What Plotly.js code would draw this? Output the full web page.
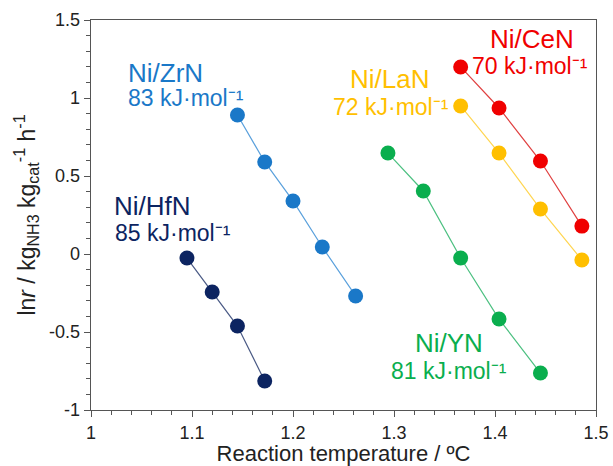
<!DOCTYPE html>
<html><head><meta charset="utf-8">
<script src="https://cdn.plot.ly/plotly-3.0.1.min.js"></script>
<style>html,body{margin:0;padding:0;background:#fff}#c{width:613px;height:466px}</style>
</head><body><div id="c"></div>
<script>
const hfnX = [1.095, 1.120, 1.145, 1.172];
const hfnY = [-0.026, -0.244, -0.462, -0.814];
const zrnX = [1.145, 1.172, 1.200, 1.229, 1.262];
const zrnY = [0.891, 0.590, 0.340, 0.045, -0.269];
const ynX = [1.294, 1.329, 1.366, 1.404, 1.445];
const ynY = [0.647, 0.404, -0.026, -0.417, -0.763];
const lanX = [1.366, 1.404, 1.445, 1.486];
const lanY = [0.949, 0.647, 0.288, -0.038];
const cenX = [1.366, 1.404, 1.445, 1.486];
const cenY = [1.199, 0.936, 0.596, 0.179];
const names = ["Ni/HfN", "Ni/ZrN", "Ni/YN", "Ni/LaN", "Ni/CeN"];
const energies = ["85 kJ·mol⁻¹", "83 kJ·mol⁻¹", "81 kJ·mol⁻¹", "72 kJ·mol⁻¹", "70 kJ·mol⁻¹"];
const xTickVals = [1, 1.1, 1.2, 1.3, 1.4, 1.5];
const xTickText = ["1", "1.1", "1.2", "1.3", "1.4", "1.5"];
const yTickVals = [-1, -0.5, 0, 0.5, 1, 1.5];
const yTickText = ["-1", "-0.5", "0", "0.5", "1", "1.5"];
const colors = ["#0c2461", "#1a78c8", "#0aae4e", "#ffbf00", "#f00000"];
const lineColors = ["#4a5a85", "#5aa0dc", "#4cc081", "#ffd550", "#e04040"];

const xs = [hfnX, zrnX, ynX, lanX, cenX];
const ys = [hfnY, zrnY, ynY, lanY, cenY];
const font = "Liberation Sans, Arial, sans-serif";

const traces = xs.map((x, i) => ({
  x: x, y: ys[i], type: "scatter", mode: "lines+markers", name: names[i],
  line: {color: lineColors[i], width: 1.2},
  marker: {color: colors[i], size: 15},
  showlegend: false
}));

// label centre positions (data coords)
const labPos = [
  {x: 1.061, y: 0.308, ex: 1.081, ey: 0.136},
  {x: 1.074, y: 1.160, ex: 1.094, ey: 1.000},
  {x: 1.354, y: -0.570, ex: 1.354, ey: -0.748},
  {x: 1.2955, y: 1.120, ex: 1.297, ey: 0.944},
  {x: 1.437, y: 1.378, ex: 1.435, ey: 1.208}
];
const annotations = [];
labPos.forEach((p, i) => {
  annotations.push({x: p.x, y: p.y, xref: "x", yref: "y", text: names[i], showarrow: false,
    xanchor: "center", yanchor: "middle", borderpad: 0, font: {family: font, size: 26, color: colors[i]}});
  annotations.push({x: p.ex, y: p.ey, xref: "x", yref: "y", text: energies[i], showarrow: false,
    xanchor: "center", yanchor: "middle", borderpad: 0, font: {family: font, size: 23, color: colors[i]}});
});

const axBase = {
  showline: true, linecolor: "#555", linewidth: 1.3, mirror: true,
  ticks: "outside", ticklen: 6, tickcolor: "#555", showgrid: false, zeroline: false,
  tickfont: {family: font, size: 18, color: "#222"}
};
const layout = {
  width: 613, height: 466,
  margin: {l: 91, r: 17, t: 20, b: 56},
  paper_bgcolor: "#fff", plot_bgcolor: "#fff",
  xaxis: Object.assign({}, axBase, {
    range: [1, 1.5], tickmode: "array", tickvals: xTickVals, ticktext: xTickText,
    minor: {dtick: 0.02, tick0: 1, ticks: "outside", ticklen: 4, tickcolor: "#555"},
    title: {text: "Reaction temperature / ºC", font: {family: font, size: 22, color: "#222"}, standoff: 0}
  }),
  yaxis: Object.assign({}, axBase, {
    range: [-1, 1.5], tickmode: "array", tickvals: yTickVals, ticktext: yTickText,
    minor: {dtick: 0.1, tick0: 0, ticks: "outside", ticklen: 4, tickcolor: "#555"},
    title: {text: "ln<i>r</i> / kg<sub>NH3</sub> kg<sub>cat</sub><sup>-1</sup> h<sup>-1</sup>", font: {family: font, size: 23, color: "#222"}, standoff: 7}
  }),
  annotations: annotations
};
Plotly.newPlot("c", traces, layout, {staticPlot: true, displayModeBar: false});
</script></body></html>
